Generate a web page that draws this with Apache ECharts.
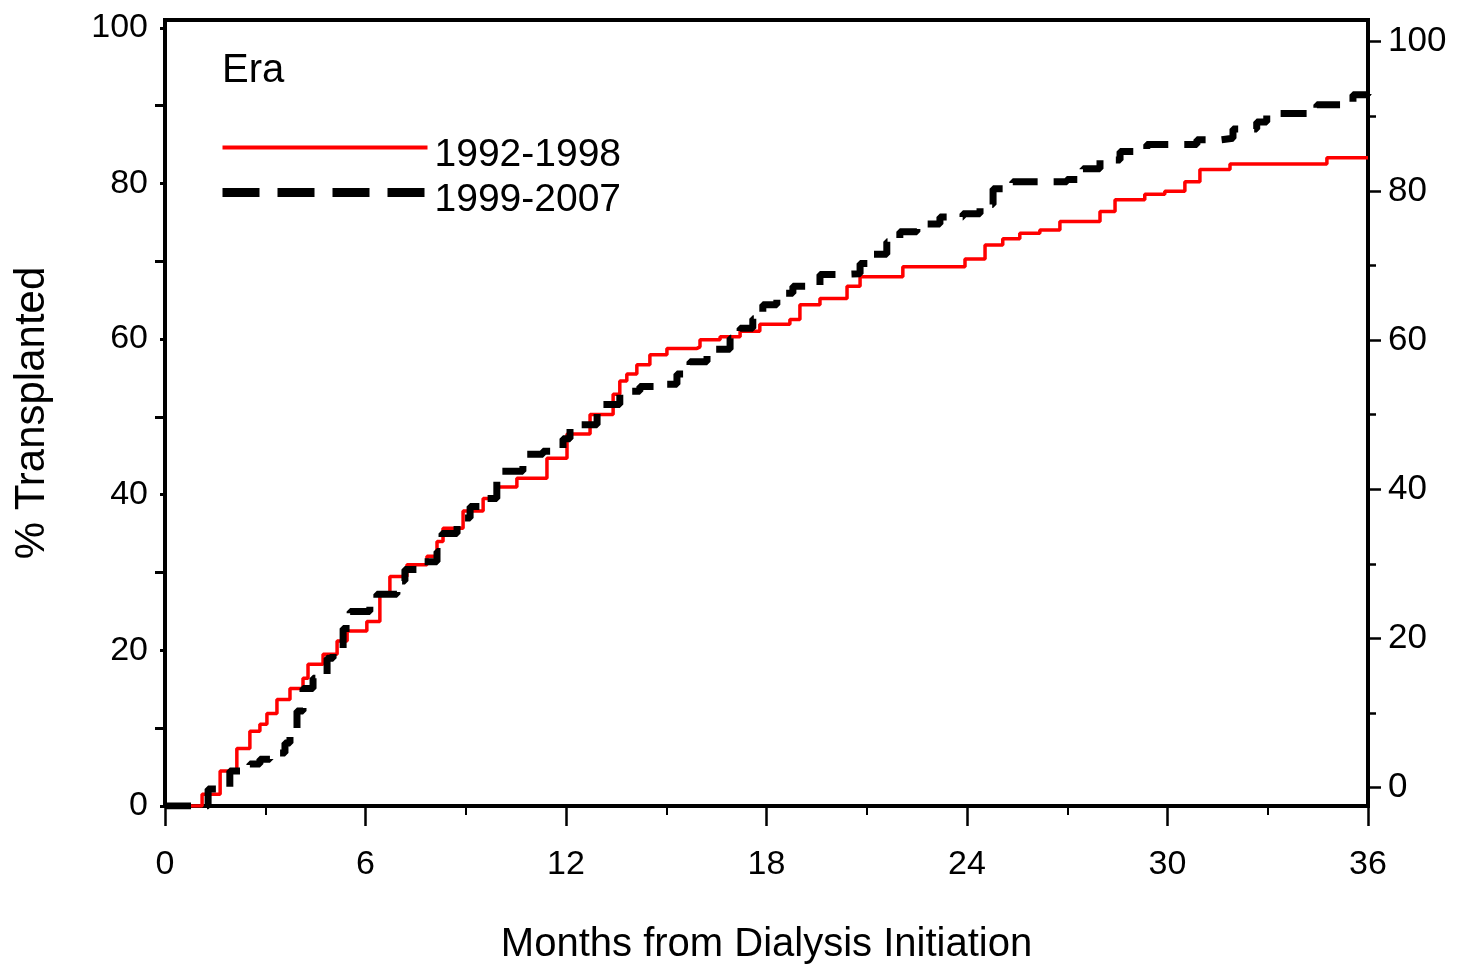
<!DOCTYPE html>
<html><head><meta charset="utf-8">
<script src="https://cdn.jsdelivr.net/npm/echarts@6/dist/echarts.min.js"></script>
<style>html,body{margin:0;padding:0;background:#fff}#c{width:1459px;height:968px}</style>
</head><body><div id="c"></div>
<script>
const xTickLabels = ['0','6','12','18','24','30','36'];
const yTickValues = [0, 20, 40, 60, 80, 100];
const yMinorValues = [10, 30, 50, 70, 90];
const legendTitle = 'Era';
const seriesNames = ['1992-1998', '1999-2007'];

const redMonths = [0, 1.05, 1.11, 1.65, 2.15, 2.54, 2.84, 3.05, 3.35, 3.74, 4.13, 4.28, 4.73, 5.15, 5.45, 6.04, 6.43, 6.73, 7.24, 7.84, 8.14, 8.32, 8.92, 9.52, 9.93, 10.53, 11.43, 12.03, 12.72, 13.41, 13.61, 13.82, 14.12, 14.51, 15.02, 15.92, 16.01, 16.61, 17.21, 17.8, 18.7, 19.0, 19.6, 20.41, 20.8, 22.08, 23.94, 24.54, 25.07, 25.58, 26.18, 26.78, 27.98, 28.43, 29.32, 29.92, 30.52, 30.97, 31.87, 34.77, 36];
const redPct    = [0, 0, 1.5, 4.5, 7.4, 9.6, 10.5, 11.9, 13.7, 15.1, 16.4, 18.2, 19.5, 21.2, 22.5, 23.7, 27.2, 29.5, 31.0, 32.1, 34.0, 35.7, 37.9, 39.5, 41.0, 42.1, 44.7, 47.8, 50.3, 52.9, 54.6, 55.5, 56.7, 58.0, 58.8, 59.0, 59.9, 60.3, 61.0, 61.9, 62.5, 64.4, 65.2, 66.8, 68.0, 69.3, 70.3, 72.1, 72.9, 73.6, 74.0, 75.1, 76.4, 77.9, 78.6, 79.0, 80.2, 81.8, 82.5, 83.3, 83.3];

const blackMonths = [0, 1.1, 1.29, 1.94, 2.54, 2.84, 3.14, 3.59, 3.74, 3.95, 4.13, 4.43, 4.85, 5.03, 5.33, 5.54, 6.13, 6.34, 6.94, 7.18, 7.72, 8.14, 8.29, 8.74, 9.13, 9.52, 9.93, 10.02, 10.71, 11.31, 11.91, 12.12, 12.93, 13.61, 14.21, 14.9, 15.32, 15.71, 16.22, 16.91, 17.21, 17.59, 17.89, 18.31, 18.79, 19.6, 20.29, 20.8, 21.18, 21.6, 21.99, 22.5, 23.19, 23.88, 24.39, 24.78, 25.37, 26.99, 27.47, 27.98, 28.58, 29.38, 30.88, 31.57, 31.96, 32.67, 32.97, 34.47, 35.55, 36];
const blackPct    = [0, 0, 2.2, 4.5, 5.4, 6.0, 6.8, 8.1, 9.5, 12.2, 15.1, 16.4, 19.0, 20.1, 22.8, 25.0, 26.7, 27.2, 28.9, 30.4, 31.4, 32.7, 35.0, 37.0, 38.5, 39.5, 42.4, 43.0, 45.2, 45.6, 47.2, 49.0, 51.6, 53.3, 53.9, 54.2, 55.5, 57.1, 58.7, 60.1, 61.4, 62.6, 64.4, 65.9, 66.8, 68.3, 68.4, 69.7, 70.9, 72.5, 73.8, 74.8, 75.7, 76.1, 77.3, 79.3, 80.2, 80.5, 81.9, 83.0, 84.1, 85.0, 85.6, 85.8, 87.0, 87.9, 89.0, 90.1, 91.4, 91.5];

const F = "'Liberation Sans', Arial, sans-serif";
const zip = (xs, ys) => xs.map((x, i) => [x, ys[i]]);

const chart = echarts.init(document.getElementById('c'), null, {renderer: 'canvas'});
const leftMin = 0, leftMax = 101;
const rightMin = -2.45, rightMax = 102.9;

chart.setOption({
  animation: false,
  backgroundColor: '#fff',
  textStyle: {fontFamily: F, color: '#000'},
  title: {
    text: legendTitle, left: 222, top: 51, padding: 0,
    textStyle: {fontSize: 40, fontWeight: 'normal', color: '#000', fontFamily: F}
  },
  legend: {
    orient: 'vertical', left: 218, top: 136, padding: 0,
    itemWidth: 205, itemHeight: 14, itemGap: 6,
    itemStyle: {opacity: 0},
    formatter: '{t|{name}}',
    textStyle: {fontSize: 39, color: '#000', fontFamily: F,
      rich: {t: {fontSize: 39, color: '#000', fontFamily: F, padding: [16, 0, 0, 2]}}},
    data: [
      {name: seriesNames[0], lineStyle: {width: 4, color: '#ff0000', type: 'solid', opacity: 1}},
      {name: seriesNames[1], lineStyle: {width: 9, color: '#000', type: [37, 18], cap: 'butt', opacity: 1}}
    ]
  },
  grid: {left: 165, right: 91, top: 20, bottom: 162, show: true, borderColor: '#000', borderWidth: 4,
    containLabel: false, outerBoundsMode: 'none'},
  xAxis: {
    type: 'value', min: 0, max: 36, interval: 6,
    axisLine: {lineStyle: {color: '#000', width: 4}},
    axisTick: {length: 20, lineStyle: {color: '#000', width: 2.5}},
    minorTick: {show: true, splitNumber: 2, length: 9, lineStyle: {color: '#000', width: 2}},
    splitLine: {show: false}, minorSplitLine: {show: false},
    axisLabel: {fontSize: 34, margin: 42, color: '#000', fontFamily: F,
      formatter: v => xTickLabels[Math.round(v / 6)]},
    name: 'Months from Dialysis Initiation', nameLocation: 'middle', nameGap: 119,
    nameTextStyle: {fontSize: 40, color: '#000', fontFamily: F}
  },
  yAxis: [
    {
      type: 'value', position: 'left', min: leftMin, max: leftMax,
      axisLine: {show: true, lineStyle: {color: '#000', width: 4}},
      axisTick: {show: true, length: 5, customValues: yTickValues, lineStyle: {color: '#000', width: 3}},
      axisLabel: {customValues: yTickValues, fontSize: 34, margin: 17, color: '#000', fontFamily: F},
      splitLine: {show: false},
      name: '% Transplanted', nameLocation: 'middle', nameGap: 112, nameRotate: 90,
      nameTextStyle: {fontSize: 42, color: '#000', fontFamily: F}
    },
    {
      type: 'value', position: 'left', min: leftMin, max: leftMax,
      axisLine: {show: false},
      axisTick: {show: true, length: 10, customValues: yMinorValues, lineStyle: {color: '#000', width: 3}},
      axisLabel: {show: false}, splitLine: {show: false}
    },
    {
      type: 'value', position: 'right', min: rightMin, max: rightMax,
      axisLine: {show: true, lineStyle: {color: '#000', width: 4}},
      axisTick: {show: true, length: 13, customValues: yTickValues, lineStyle: {color: '#000', width: 2.5}},
      axisLabel: {customValues: yTickValues, fontSize: 35, margin: 20, color: '#000', fontFamily: F},
      splitLine: {show: false}
    },
    {
      type: 'value', position: 'right', min: rightMin, max: rightMax,
      axisLine: {show: false},
      axisTick: {show: true, length: 8, customValues: yMinorValues, lineStyle: {color: '#000', width: 2.5}},
      axisLabel: {show: false}, splitLine: {show: false}
    }
  ],
  series: [
    {
      name: seriesNames[0], type: 'line', step: 'end', yAxisIndex: 0,
      symbol: 'none', data: zip(redMonths, redPct),
      lineStyle: {color: '#ff0000', width: 3.5},
      itemStyle: {color: '#ff0000'}, z: 2
    },
    {
      name: seriesNames[1], type: 'line', step: 'end', yAxisIndex: 0,
      symbol: 'none', data: zip(blackMonths, blackPct),
      lineStyle: {color: '#000', width: 7, type: [26, 16], cap: 'butt'},
      itemStyle: {color: '#000'}, z: 3
    }
  ]
});
</script>
</body></html>
